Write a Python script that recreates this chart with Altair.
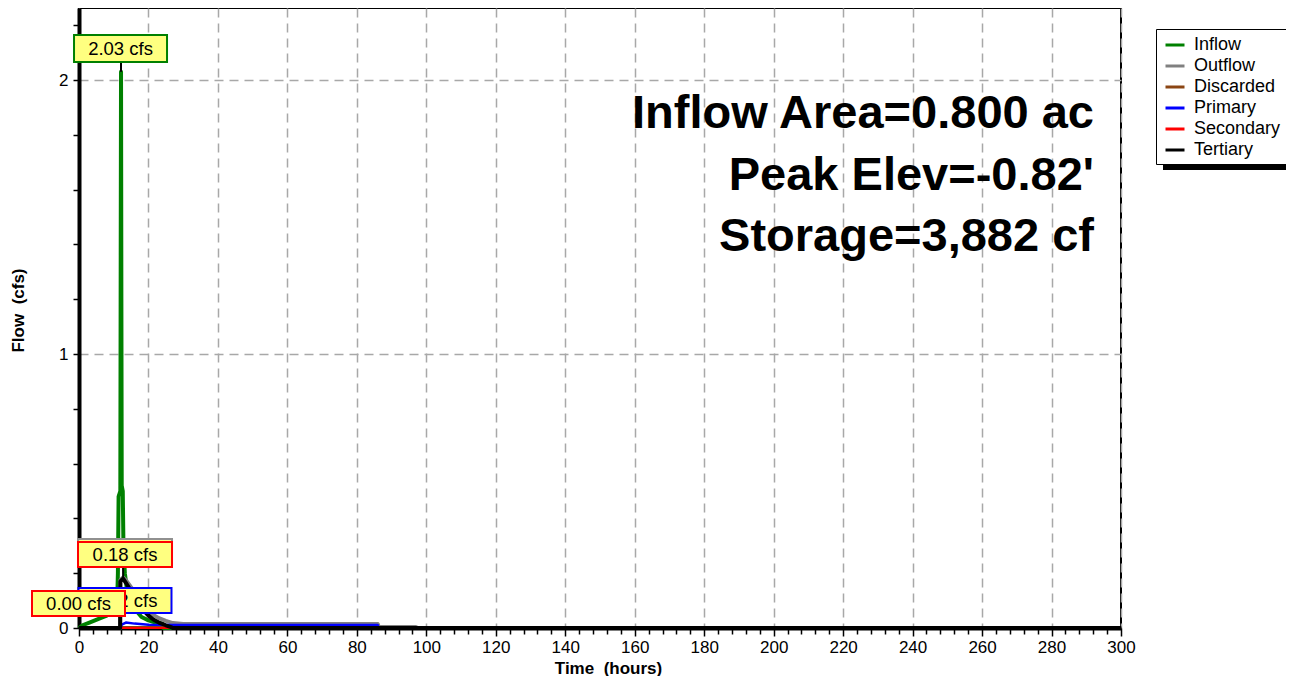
import altair as alt
import pandas as pd

# ---------------- data (time in hours, flow in cfs) ----------------
series_names = ["Inflow", "Outflow", "Discarded", "Primary", "Secondary", "Tertiary"]
series_colors = ["#008000", "#808080", "#8B4513", "#0000FF", "#FF0000", "#000000"]

inflow_t = [0, 1, 3, 6, 8, 9.5, 10.5, 11.0, 11.2, 11.4, 11.9, 12.0, 12.1, 12.2, 12.3, 12.6, 12.8, 13.2, 14, 16, 18, 20, 22, 24, 24.2, 300]
inflow_q = [0, 0.01, 0.02, 0.035, 0.045, 0.058, 0.075, 0.1, 0.2, 0.48, 0.5, 1.3, 2.03, 1.2, 0.52, 0.5, 0.3, 0.2, 0.12, 0.07, 0.04, 0.028, 0.02, 0.016, 0, 0]

outflow_t = [0, 11.85, 11.9, 12.7, 13.5, 15.5, 17, 18.5, 20, 21.5, 23, 25, 27, 30, 86, 86.3, 97, 97.3, 300]
outflow_q = [0, 0, 0.175, 0.185, 0.175, 0.14, 0.105, 0.08, 0.062, 0.047, 0.036, 0.026, 0.018, 0.015, 0.015, 0.004, 0.004, 0, 0]

discarded_t = [0, 11.9, 12.3, 97, 97.3, 300]
discarded_q = [0, 0, 0.004, 0.004, 0, 0]

primary_t = [0, 11.9, 12.3, 13.5, 16, 20, 30, 86, 86.3, 300]
primary_q = [0, 0, 0.012, 0.02, 0.016, 0.012, 0.011, 0.011, 0, 0]

secondary_t = [0, 300]
secondary_q = [0, 0]

tertiary_t = [0, 11.85, 11.9, 12.7, 13.5, 15.5, 17, 18.5, 20, 21.5, 23, 25, 26.5, 27, 300]
tertiary_q = [0, 0, 0.17, 0.18, 0.165, 0.125, 0.09, 0.065, 0.045, 0.03, 0.02, 0.01, 0.003, 0, 0]

# peak labels (drawn in this order)
label_series = ["Outflow", "Tertiary", "Primary", "Secondary", "Inflow"]
label_text = ["0.18 cfs", "0.18 cfs", "0.02 cfs", "0.00 cfs", "2.03 cfs"]
label_t = [12.7, 12.7, 13.5, 0, 12.1]
label_q = [0.185, 0.18, 0.02, 0, 2.03]

info_lines = ["Inflow Area=0.800 ac", "Peak Elev=-0.82'", "Storage=3,882 cf"]

x_ticks = list(range(0, 301, 4))
y_ticks = [0, 0.2, 0.4, 0.6, 0.8, 1.0, 1.2, 1.4, 1.6, 1.8, 2.0, 2.2]

x_title = "Time\u00a0\u00a0(hours)"
y_title = "Flow\u00a0\u00a0(cfs)"

# ---------------- styles ----------------
FONT = "Liberation Sans"
W, H = 1042, 620
line_widths = {"Inflow": 4, "Outflow": 4, "Discarded": 2, "Primary": 2.5, "Secondary": 2, "Tertiary": 4}
# label box styles: border, dx, dy, box w, box h, leader bottom (pixel) or None
label_style = [
    ("#909090", 1.9, -25.8, 94, 25, None),
    ("#FF0000", 1.9, -24.2, 94, 25, 559),
    ("#0000FF", -0.9, -22.0, 93, 25, None),
    ("#FF0000", -0.5, -24.5, 93, 25, None),
    ("#008000", -0.5, -23.3, 93, 27, 54),
]

rows = []
for name, ts, qs in [("Inflow", inflow_t, inflow_q), ("Outflow", outflow_t, outflow_q),
                     ("Discarded", discarded_t, discarded_q), ("Primary", primary_t, primary_q),
                     ("Secondary", secondary_t, secondary_q), ("Tertiary", tertiary_t, tertiary_q)]:
    for i, (t, q) in enumerate(zip(ts, qs)):
        rows.append({"series": name, "t": t, "q": q, "i": i})
df = pd.DataFrame(rows)

lbl_df = pd.DataFrame({"k": list(range(len(label_text))), "series": label_series,
                       "text": label_text, "t": label_t, "q": label_q})

x_major = "datum.value % 20 === 0"
y_major = "abs(datum.value - round(datum.value)) < 0.001"

xaxis = alt.Axis(
    values=x_ticks, title=x_title,
    labelExpr=f"{x_major} ? datum.label : ''", labelOverlap=False, labelFlush=False,
    grid=True, gridOpacity={"condition": {"test": x_major, "value": 1}, "value": 0},
    gridDash=[9, 6], gridColor="#a8a8a8", gridWidth=1.5,
    tickSize={"condition": {"test": x_major, "value": 8}, "value": 6},
    labelPadding=3, labelFontSize=17, labelFont=FONT, labelColor="black",
    titleFont=FONT, titleFontSize=17, titleFontWeight="bold", titleColor="black",
    titleX=529, titleY=45, titleBaseline="alphabetic", titleAnchor="middle",
)
yaxis = alt.Axis(
    values=y_ticks, title=y_title,
    labelExpr=f"{y_major} ? format(round(datum.value), 'd') : ''", labelOverlap=False, labelFlush=False,
    grid=True, gridOpacity={"condition": {"test": y_major, "value": 1}, "value": 0},
    gridDash=[9, 6], gridColor="#a8a8a8", gridWidth=1.5,
    tickSize=6, labelPadding=5, labelFontSize=17, labelFont=FONT, labelColor="black",
    titleFont=FONT, titleFontSize=17, titleFontWeight="bold", titleColor="black",
    titleX=-61, titleY=302, titleBaseline="middle", titleAlign="center", titleAngle=270,
)
X = alt.X("t:Q", scale=alt.Scale(domain=[0, 300], nice=False, zero=False), axis=xaxis)
Y = alt.Y("q:Q", scale=alt.Scale(domain=[0, 2.263], nice=False, zero=False), axis=yaxis)

legend = alt.Legend(
    orient="none", legendX=1077, legendY=21, title=None,
    fillColor="white", strokeColor="black", padding=5,
    labelFont=FONT, labelFontSize=18, labelColor="black", labelOffset=8,
    symbolType="stroke", symbolSize=361, symbolStrokeWidth=3, symbolOffset=3,
    rowPadding=1,
)
color = alt.Color("series:N", scale=alt.Scale(domain=series_names, range=series_colors), legend=legend)

layers = []
# legend shadow
layers.append(
    alt.Chart(pd.DataFrame({"a": [0]})).mark_rect(color="black").encode(
        x=alt.value(1084), x2=alt.value(1214), y=alt.value(27), y2=alt.value(162))
)
for name in series_names:
    layers.append(
        alt.Chart(df).transform_filter(alt.datum.series == name)
        .mark_line(strokeWidth=line_widths[name], strokeJoin="round")
        .encode(x=X, y=Y, color=color, order="i:Q")
    )

for k, (border, dx, dy, bw, bh, leader) in enumerate(label_style):
    base = alt.Chart(lbl_df).transform_filter(alt.datum.k == k)
    if leader is not None:
        layers.append(base.mark_rule(color="black", strokeWidth=2).encode(x=X, y=Y, y2=alt.value(leader)))
    r = bh / bw
    shape = f"M-1,-{r:.4f}L1,-{r:.4f}L1,{r:.4f}L-1,{r:.4f}Z"
    layers.append(
        base.mark_point(shape=shape, size=bw * bw, filled=True, fill="#ffff80", stroke=border,
                        strokeWidth=2, opacity=1, xOffset=dx, yOffset=dy).encode(x=X, y=Y)
    )
    layers.append(
        base.mark_text(font=FONT, fontSize=18.5, color="black", align="center", baseline="middle",
                       xOffset=dx, yOffset=dy + 0.5).encode(x=X, y=Y, text="text:N")
    )

for j, line in enumerate(info_lines):
    layers.append(
        alt.Chart(pd.DataFrame({"s": [line]})).mark_text(
            font=FONT, fontSize=47, fontWeight="bold", color="black", align="right",
            baseline="alphabetic").encode(x=alt.value(1015), y=alt.value([120, 182, 243][j]), text="s:N")
    )

chart = alt.layer(*layers).properties(
    width=W, height=H,
    autosize=alt.AutoSizeParams(type="none"),
    padding={"left": 71, "top": 0, "right": 165, "bottom": 48},
).configure_view(stroke="black", strokeWidth=2).configure_axis(
    domainColor="black", domainWidth=4, tickColor="black", tickWidth=1.5
)

chart.save("out.html", embed_options={"renderer": "svg", "actions": False})
